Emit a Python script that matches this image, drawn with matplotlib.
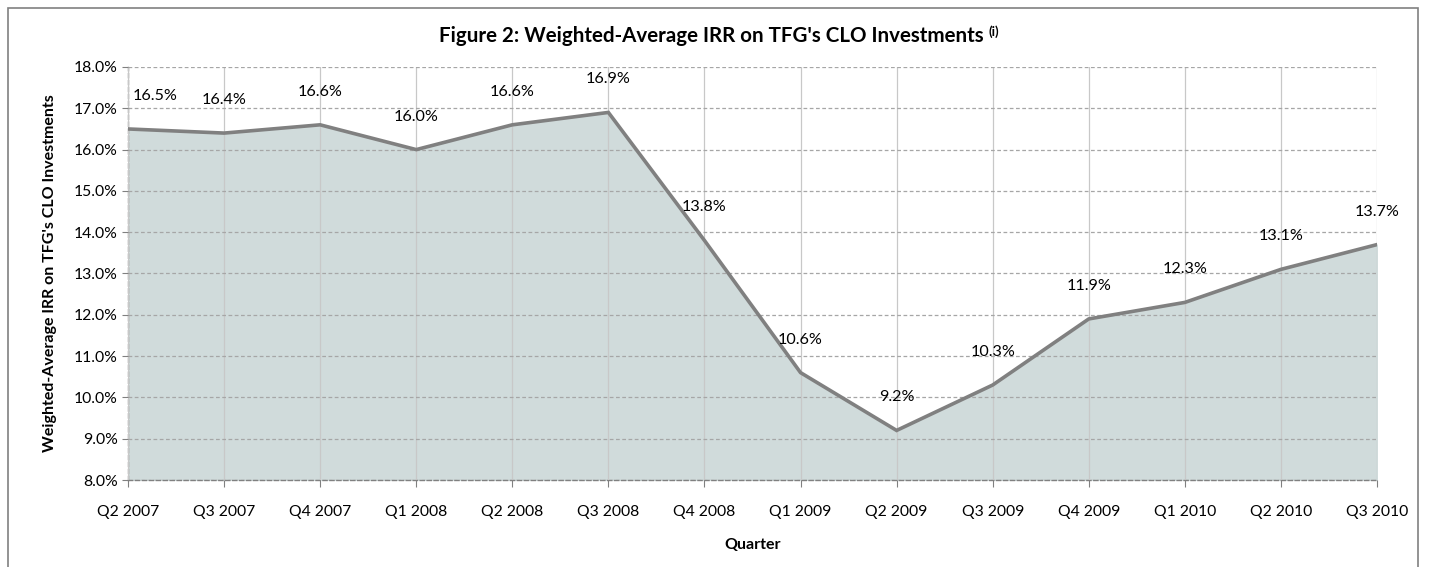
import matplotlib.pyplot as plt
from matplotlib.patches import Rectangle
from matplotlib.ticker import FuncFormatter

quarters = ['Q2 2007', 'Q3 2007', 'Q4 2007', 'Q1 2008', 'Q2 2008', 'Q3 2008', 'Q4 2008',
            'Q1 2009', 'Q2 2009', 'Q3 2009', 'Q4 2009', 'Q1 2010', 'Q2 2010', 'Q3 2010']
irr = [16.5, 16.4, 16.6, 16.0, 16.6, 16.9, 13.8, 10.6, 9.2, 10.3, 11.9, 12.3, 13.1, 13.7]

plt.rcParams['font.family'] = ['Lato', 'DejaVu Sans']

W, H = 1439, 567
fig = plt.figure(figsize=(W / 100, H / 100), dpi=100)
ax = fig.add_axes([128 / W, 1 - 480 / H, (1377 - 128) / W, (480 - 67) / H])

x = list(range(len(quarters)))
ax.fill_between(x, 8, irr, color='#d0dbdb', zorder=1)
ax.plot(x, irr, color='#808080', lw=2.6, zorder=3, solid_joinstyle='miter')

ax.set_xlim(0, len(quarters) - 1)
ax.set_ylim(8, 18)
ax.set_yticks(range(8, 19))
ax.yaxis.set_major_formatter(FuncFormatter(lambda v, p: f'{v:.1f}%'))
ax.set_xticks(x)
ax.set_xticklabels(quarters)

ax.grid(axis='y', color='#a6a6a6', ls=(0, (3, 2)), lw=0.9, zorder=2)
ax.grid(axis='x', color='#c8c8c8', ls='-', lw=0.9, zorder=2)
ax.set_axisbelow(False)

for s in ['top', 'right']:
    ax.spines[s].set_visible(False)
for s in ['left', 'bottom']:
    ax.spines[s].set_color('#808080')
    ax.spines[s].set_linestyle((0, (3, 2)))
    ax.spines[s].set_linewidth(1.0)

ax.tick_params(axis='both', colors='#808080', labelcolor='black', labelsize=11.3, length=4)
ax.tick_params(axis='x', pad=13, direction='out', length=5)

for i, v in enumerate(irr):
    if i == 0:
        ax.annotate(f'{v:.1f}%', (i, v), xytext=(5, 26), textcoords='offset pixels',
                    ha='left', va='bottom', fontsize=11.6, zorder=4)
    else:
        ax.annotate(f'{v:.1f}%', (i, v), xytext=(0, 26), textcoords='offset pixels',
                    ha='center', va='bottom', fontsize=11.6, zorder=4)

ax.set_ylabel("Weighted-Average IRR on TFG's CLO Investments", fontsize=11.5, fontweight='bold', labelpad=12)
ax.set_xlabel('Quarter', fontsize=11.5, fontweight='bold', labelpad=14)

t = fig.text(0.5 - 8 / W, 1 - 36 / H, "Figure 2: Weighted-Average IRR on TFG's CLO Investments",
             ha='center', va='center', fontsize=14.8, fontweight='bold')
fig.canvas.draw()
bb = t.get_window_extent()
fig.text(bb.x1 / W + 5 / W, bb.y1 / H + 1 / H, '(i)', ha='left', va='top', fontsize=9.5, fontweight='bold')

fig.patches.append(Rectangle((8 / W, -0.1), (1418 - 8) / W, 1.1 - 8 / H, transform=fig.transFigure,
                             fill=False, edgecolor='#808080', lw=1.2))

fig.savefig('out.png', dpi=100)
